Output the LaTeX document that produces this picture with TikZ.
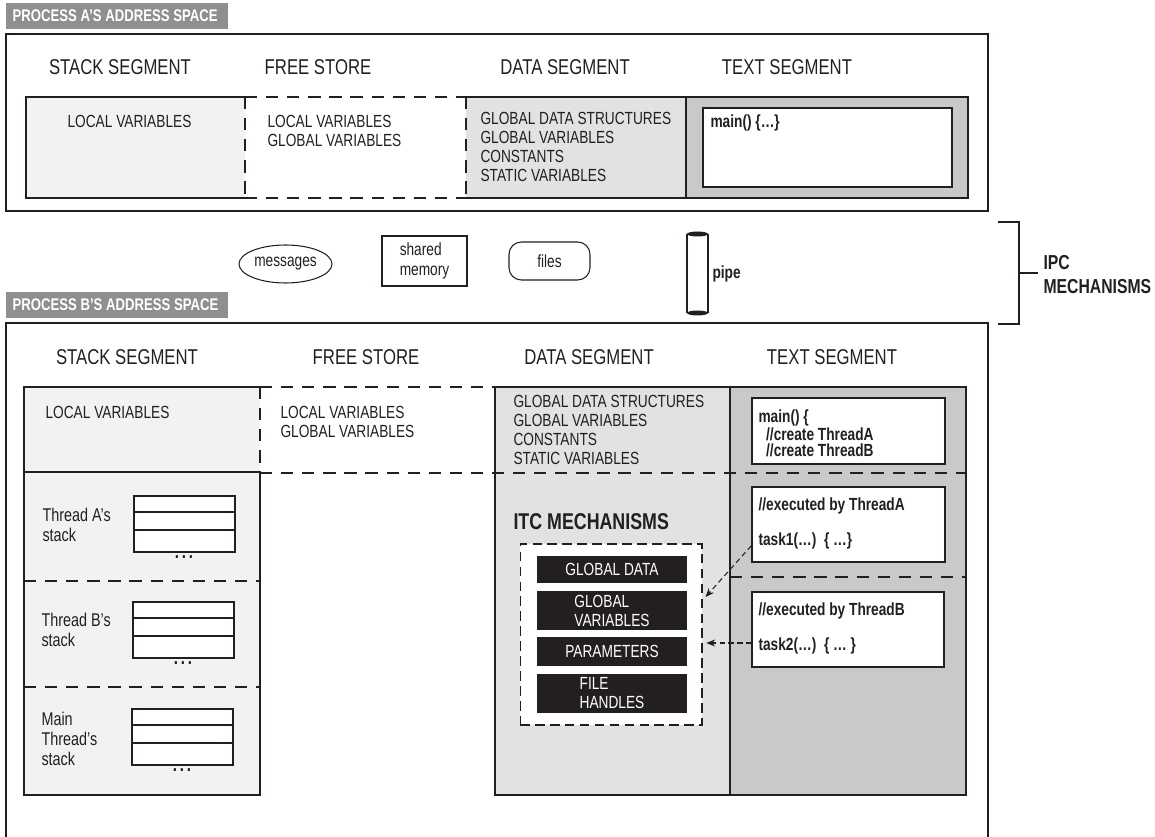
\documentclass[tikz,border=0pt]{standalone}
\usepackage{fontspec}
\setmainfont[FakeStretch=0.78]{Liberation Sans}
\usetikzlibrary{arrows.meta}
\usetikzlibrary{shapes.geometric}

\definecolor{ink}{HTML}{231F20}
\definecolor{headgrey}{HTML}{8E8F91}
\definecolor{stackfill}{HTML}{F1F2F4}
\definecolor{datafill}{HTML}{E1E2E4}
\definecolor{textfill}{HTML}{C8C9CB}

\tikzset{
	seghead/.style={font=\fontsize{12.2}{13}\selectfont, inner sep=0},
	plain/.style={font=\fontsize{10}{10.8}\selectfont, align=left, anchor=north west, inner sep=0},
	code/.style={font=\bfseries\fontsize{10}{9.2}\selectfont, align=left, anchor=north west, inner sep=0},
	headtext/.style={font=\bfseries\fontsize{9.6}{11}\selectfont, text=white, anchor=west, inner sep=0},
	frame/.style={line width=0.9pt},
	segdash/.style={dash pattern=on 7pt off 5pt},
	codebox/.style={draw, fill=white, line width=0.8pt, inner sep=0},
	itcitem/.style={fill=ink, text=white, minimum width=3cm, align=left, inner sep=0,
		font=\fontsize{10}{10.8}\selectfont},
	dots/.style={font=\bfseries\fontsize{11}{11}\selectfont, inner sep=0},
	ptr/.style={-{Stealth[length=5pt, width=4pt]}, dash pattern=on 3pt off 2pt},
	ipc/.style={draw, inner sep=0, font=\fontsize{10}{11.3}\selectfont, align=left}
}

\newcommand{\drawthreadstack}[2]{   % x, y of the top left corner
	\draw[fill=white] (#1, #2) rectangle ++(101, 56);
	\draw (#1, #2+16) -- ++(101, 0);
	\draw (#1, #2+34) -- ++(101, 0);
	\node[dots] at (#1+50, #2+61) {.\kern1.6pt.\kern1.6pt.};
}

\begin{document}
\begin{tikzpicture}[x=0.02cm, y=-0.02cm, line width=0.6pt, color=ink]
\useasboundingbox (0, 0) rectangle (1155, 837);

% process A
\fill[headgrey] (6, 3) rectangle (228, 29);
\node[headtext] (headA) at (12, 16) {PROCESS A’S ADDRESS SPACE};
\draw[frame] (6, 34) rectangle (988, 211);

\node[seghead] (stackA) at (120, 67) {STACK SEGMENT};
\node[seghead] (freeA) at (318, 67) {FREE STORE};
\node[seghead] (dataA) at (565, 67) {DATA SEGMENT};
\node[seghead] (textA) at (787, 67) {TEXT SEGMENT};

\fill[stackfill] (26, 97) rectangle (245, 198);
\draw (245, 97) -- (26, 97) -- (26, 198) -- (245, 198);
\draw[segdash] (245, 97) -- (245, 198);
\draw[segdash] (245, 97) -- (466, 97);
\draw[segdash] (245, 198) -- (466, 198);
\fill[datafill] (466, 97) rectangle (686, 198);
\draw (466, 97) -- (686, 97) -- (686, 198) -- (466, 198);
\draw[segdash] (466, 97) -- (466, 198);
\draw[fill=textfill] (686, 97) rectangle (968, 198);

\node[plain] (localA) at (67, 115) {LOCAL VARIABLES};
\node[plain] (heapA) at (267, 115) {LOCAL VARIABLES\\GLOBAL VARIABLES};
\node[plain] (globalsA) at (480, 112) {GLOBAL DATA STRUCTURES\\GLOBAL VARIABLES\\CONSTANTS\\STATIC VARIABLES};
\node[codebox, minimum width=4.98cm, minimum height=1.58cm] (mainA) at (827.5, 147.5) {};
\node[code] at (710, 114) {main() \{…\}};

% IPC mechanisms
\node[ipc, ellipse, minimum width=1.86cm, minimum height=0.76cm] (messages) at (285.5, 264) {messages};
\node[ipc, minimum width=1.7cm, minimum height=1cm] (shmem) at (424.5, 261) {shared\\memory};
\node[ipc, rounded corners=7pt, minimum width=1.62cm, minimum height=0.76cm] (files) at (549.5, 261) {files};
\draw (687, 234) -- (687, 313);
\draw (708, 234) -- (708, 313);
\fill (697.5, 234) ellipse [x radius=10.5, y radius=2.5];
\fill (697.5, 313) ellipse [x radius=10.5, y radius=2.5];
\node[code, anchor=west] (pipe) at (712, 274) {pipe};

\draw (998, 222) -- (1019, 222) -- (1019, 324) -- (998, 324);
\draw (1019, 273) -- (1038, 273);
\node[font=\bfseries\fontsize{11.5}{13.6}\selectfont, align=left, anchor=north west, inner sep=0]
	(ipclabel) at (1043, 255) {IPC\\MECHANISMS};

% process B
\fill[headgrey] (6, 292) rectangle (228, 318);
\node[headtext] (headB) at (12, 305) {PROCESS B’S ADDRESS SPACE};
\draw[frame] (6, 837) -- (6, 323) -- (988, 323) -- (988, 837);

\node[seghead] (stackB) at (127, 357) {STACK SEGMENT};
\node[seghead] (freeB) at (366, 357) {FREE STORE};
\node[seghead] (dataB) at (589, 357) {DATA SEGMENT};
\node[seghead] (textB) at (832, 357) {TEXT SEGMENT};

\fill[stackfill] (24, 387) rectangle (260, 795);
\draw (260, 387) -- (24, 387) -- (24, 795) -- (260, 795) -- (260, 472);
\draw (24, 472) -- (260, 472);
\draw[segdash] (260, 387) -- (260, 472);
\draw[segdash] (260, 387) -- (495, 387);
\draw[segdash] (24, 581) -- (260, 581);
\draw[segdash] (24, 687) -- (260, 687);
\draw[fill=datafill] (495, 387) rectangle (730, 795);
\draw[fill=textfill] (730, 387) rectangle (966, 795);
\draw[segdash] (260, 473) -- (966, 473);
\draw[segdash] (730, 577) -- (966, 577);

\node[plain] (localB) at (45, 406) {LOCAL VARIABLES};
\node[plain] (heapB) at (280, 406) {LOCAL VARIABLES\\GLOBAL VARIABLES};
\node[plain] (globalsB) at (513, 395) {GLOBAL DATA STRUCTURES\\GLOBAL VARIABLES\\CONSTANTS\\STATIC VARIABLES};

% thread stacks
\node[plain, font=\fontsize{10.5}{11.3}\selectfont] (stackAlabel) at (42, 508) {Thread A’s\\stack};
\drawthreadstack{134}{496}
\node[plain, font=\fontsize{10.5}{11.3}\selectfont] (stackBlabel) at (41, 613) {Thread B’s\\stack};
\drawthreadstack{133}{602}
\node[plain, font=\fontsize{10.5}{11.3}\selectfont] (stackMlabel) at (41, 712) {Main\\Thread’s\\stack};
\drawthreadstack{132}{709}

% ITC mechanisms
\node[font=\bfseries\fontsize{13}{14}\selectfont, anchor=north west, inner sep=0] (itclabel) at (513, 513) {ITC MECHANISMS};
\node[draw, fill=white, dash pattern=on 5.5pt off 3pt, minimum width=3.64cm, minimum height=3.62cm] (itcbox) at (611, 634.5) {};
\node[itcitem, minimum height=0.54cm] (gdata) at (612, 569.5) {GLOBAL DATA};
\node[itcitem, minimum height=0.78cm] (gvars) at (612, 610.5) {GLOBAL\\VARIABLES};
\node[itcitem, minimum height=0.58cm] (params) at (612, 651.5) {PARAMETERS};
\node[itcitem, minimum height=0.78cm] (fhandles) at (612, 693.5) {FILE\\HANDLES};

% code in the text segment
\node[codebox, minimum width=3.86cm, minimum height=1.32cm] (mainB) at (848.5, 431) {};
\node[code] at (758, 409) {main() \{\\\ \ //create ThreadA\\\ \ //create ThreadB};
\node[codebox, minimum width=3.86cm, minimum height=1.5cm] (taskA) at (848.5, 524.5) {};
\node[code] at (758, 497) {//executed by ThreadA\\[9.5pt]task1(…)\ \ \{ …\}};
\node[codebox, minimum width=3.84cm, minimum height=1.5cm] (taskB) at (848, 629.5) {};
\node[code] at (758, 602) {//executed by ThreadB\\[9.5pt]task2(…)\ \ \{ … \}};

\draw[ptr] ([yshift=0.34cm]taskA.south west) -- ([xshift=0.06cm, yshift=0.75cm]itcbox.east);
\draw[ptr] ([yshift=-0.27cm]taskB.west) -- +(-0.9cm, 0);
\end{tikzpicture}
\end{document}
